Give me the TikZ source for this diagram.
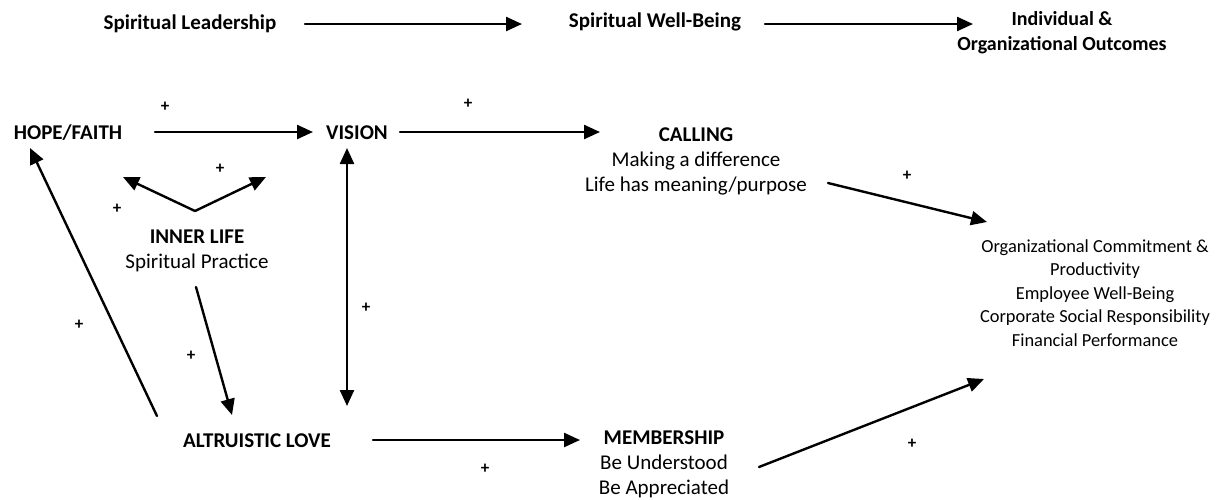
\documentclass[tikz,border=0pt]{standalone}
\usepackage{fontspec}
\setmainfont{Carlito}
\usetikzlibrary{arrows.meta}
\tikzset{
  every picture/.style={line join=round, line cap=round, >={Triangle[length=8pt,width=7pt]}},
  lbl/.style={font=\fontsize{10.5}{12.5}\selectfont\bfseries, inner sep=0pt},
  txt/.style={font=\fontsize{10.5}{12.5}\selectfont, align=center, inner sep=0pt},
  sgn/.style={font=\fontsize{8.5}{9}\selectfont\bfseries, inner sep=0pt},
  link/.style={line width=1.2pt, ->},
}

\begin{document}
\begin{tikzpicture}[x=0.5pt,y=-0.5pt]
\useasboundingbox (0,0) rectangle (1221,499);
% header row
\node[lbl] (lead) at (190,24) {Spiritual Leadership};
\node[lbl] (wellb) at (655,22) {Spiritual Well-Being};
\node[lbl,align=center,font=\fontsize{10}{12.5}\selectfont\bfseries] (result) at (1062,33) {Individual \&\\Organizational Outcomes};
% model
\node[lbl] (hope) at (68,133) {HOPE/FAITH};
\node[lbl] (vision) at (357,133) {VISION};
\node[txt] (calling) at (696,161) {\textbf{CALLING}\\Making a difference\\Life has meaning/purpose};
\node[txt] (inner) at (197,251) {\textbf{INNER LIFE}\\Spiritual Practice};
\node[lbl] (altru) at (257,441) {ALTRUISTIC LOVE};
\node[txt] (member) at (664,464) {\textbf{MEMBERSHIP}\\Be Understood\\Be Appreciated};
\node[txt,font=\fontsize{9.2}{11.75}\selectfont] (outc) at (1095,293)
  {Organizational Commitment \&\\Productivity\\Employee Well-Being\\Corporate Social Responsibility\\Financial Performance};
% arrow ends
\coordinate (lead-out) at (305,24);   \coordinate (wellb-in) at (522,24);
\coordinate (wellb-out) at (765,24);  \coordinate (result-in) at (973,24);
\coordinate (hope-out) at (155,132);  \coordinate (vision-in) at (313,132);
\coordinate (vision-out) at (400,132);\coordinate (calling-in) at (600,132);
\coordinate (calling-out) at (828,183);\coordinate (outc-top) at (987,222);
\coordinate (member-out) at (759,467);\coordinate (outc-bot) at (984,379);
\coordinate (altru-out) at (373,440); \coordinate (member-in) at (580,440);
\coordinate (vision-dn) at (347,148); \coordinate (altru-up) at (347,406);
\coordinate (inner-top) at (195,211); \coordinate (inner-l) at (123,177);
\coordinate (inner-r) at (266,177);
\coordinate (inner-bot) at (196,287); \coordinate (altru-in) at (232,415);
\coordinate (altru-tail) at (157,416); \coordinate (hope-in) at (30,148);
% connectors
\draw[link] (lead-out) -- (wellb-in);
\draw[link] (wellb-out) -- (result-in);
\draw[link] (hope-out) -- (vision-in);
\draw[link] (vision-out) -- (calling-in);
\draw[link] (calling-out) -- (outc-top);
\draw[link] (member-out) -- (outc-bot);
\draw[link] (altru-out) -- (member-in);
\draw[link,<->] (vision-dn) -- (altru-up);
\draw[link] (inner-top) -- (inner-l);
\draw[link] (inner-top) -- (inner-r);
\draw[link] (inner-bot) -- (altru-in);
\draw[link] (altru-tail) -- (hope-in);
% signs
\foreach \px/\py [count=\i] in {165/107,468/104,220/169,117/209,907/176,366/308,191/356,79/325,485/469,912/444}
  \node[sgn] (plus\i) at (\px,\py) {+};
\end{tikzpicture}
\end{document}
